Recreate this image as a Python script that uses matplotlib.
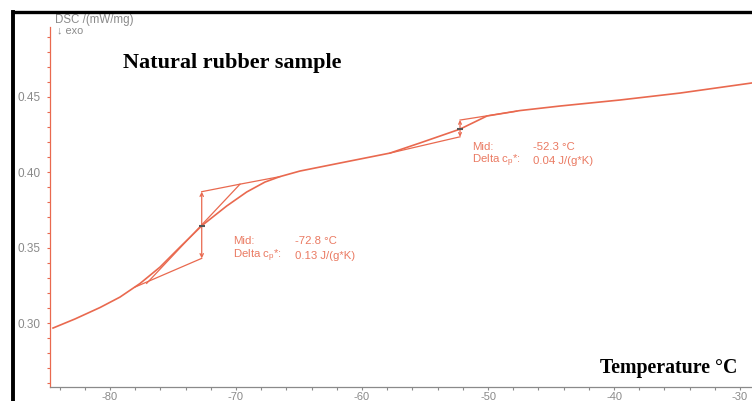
import matplotlib
matplotlib.use("Agg")
import matplotlib.pyplot as plt
import matplotlib.ticker as mtick
from matplotlib.lines import Line2D

plt.rcParams["axes.unicode_minus"] = False

temp = [-84.52, -82.78, -80.79, -79.21, -77.62, -76.03, -74.44, -72.72, -70.74,
        -69.15, -67.70, -66.51, -64.92, -61.75, -57.78, -55.40, -52.22, -50.08,
        -47.46, -44.29, -39.52, -34.76, -29.05]
dsc = [0.2967, 0.3027, 0.3103, 0.3172, 0.3262, 0.3371, 0.3504, 0.3645, 0.3776,
       0.3869, 0.3935, 0.3971, 0.4008, 0.4061, 0.4127, 0.4194, 0.4286, 0.4373,
       0.4409, 0.4439, 0.4479, 0.4525, 0.4592]

# glass transition 1 construction
g1_low_x, g1_low_y = [-78.0, -72.72], [0.3239, 0.3429]
g1_up_x, g1_up_y = [-72.72, -69.68, -66.51], [0.3871, 0.3921, 0.3971]
g1_tan_x, g1_tan_y = [-77.09, -69.68], [0.3263, 0.3921]
g1_mid = (-72.72, 0.3645)

# glass transition 2 construction
g2_low_x, g2_low_y = [-57.78, -52.22], [0.4127, 0.4235]
g2_up_x, g2_up_y = [-52.22, -47.72], [0.4346, 0.4405]
g2_mid = (-52.22, 0.4286)

mid_labels = ["-72.8 °C", "-52.3 °C"]
dcp_labels = ["0.13 J/(g*K)", "0.04 J/(g*K)"]

RED = "#E9694F"
TXT = "#EA7A62"
GRAY = "#8A8A8A"

fig = plt.figure(figsize=(7.52, 4.01), dpi=100)
ax = fig.add_axes([50 / 752, 1 - 386.7 / 401, 1 - 50 / 752, (386.7 - 27) / 401])
ax.set_xlim(-84.76, -29.05)
ax.set_ylim(0.2578, 0.4963)

ax.plot(temp, dsc, color=RED, lw=1.2, zorder=3)
for xs, ys in [(g1_low_x, g1_low_y), (g1_up_x, g1_up_y), (g1_tan_x, g1_tan_y),
               (g2_low_x, g2_low_y), (g2_up_x, g2_up_y)]:
    ax.plot(xs, ys, color=RED, lw=0.9, zorder=2)

# step arrows
ax.annotate("", xy=(g1_up_x[0], g1_up_y[0]), xytext=(g1_low_x[1], g1_low_y[1]),
            arrowprops=dict(arrowstyle="<->", color=RED, lw=0.9, mutation_scale=6,
                            shrinkA=0, shrinkB=0))
ax.annotate("", xy=(g2_up_x[0], g2_up_y[0]), xytext=(g2_low_x[1], g2_low_y[1]),
            arrowprops=dict(arrowstyle="<->", color=RED, lw=0.9, mutation_scale=5,
                            shrinkA=0, shrinkB=0))
ax.plot([g1_mid[0], g2_mid[0]], [g1_mid[1], g2_mid[1]], ls="none", marker="_",
        ms=5, mew=1.5, color="#555555", zorder=4)

# annotation text
sans = ["Liberation Sans", "DejaVu Sans"]
fs = 8.2
for (tx, ty_mid, ty_dcp, vx), m, d in zip(
        [(-70.24, 0.3546, 0.3446, -65.32), (-51.29, 0.4169, 0.4076, -46.43)],
        mid_labels, dcp_labels):
    ax.text(tx, ty_mid, "Mid:", color=TXT, fontsize=fs, family=sans, va="center")
    ax.text(vx, ty_mid, m, color=TXT, fontsize=fs, family=sans, va="center")
    ax.text(tx, ty_dcp, r"Delta c$_\mathregular{p}$*:", color=TXT, fontsize=fs,
            family=sans, va="center")
    ax.text(vx, ty_dcp, d, color=TXT, fontsize=fs, family=sans, va="center")

# axes styling
for s in ["top", "right"]:
    ax.spines[s].set_visible(False)
ax.spines["left"].set_color(RED)
ax.spines["bottom"].set_color(GRAY)
ax.spines["left"].set_linewidth(0.9)
ax.spines["bottom"].set_linewidth(0.9)
ax.xaxis.set_major_locator(mtick.MultipleLocator(10))
ax.xaxis.set_minor_locator(mtick.MultipleLocator(2))
ax.yaxis.set_major_locator(mtick.MultipleLocator(0.05))
ax.yaxis.set_minor_locator(mtick.MultipleLocator(0.01))
ax.yaxis.set_major_formatter(mtick.FormatStrFormatter("%.2f"))
ax.tick_params(axis="y", which="both", colors=RED, length=2.5, width=0.8,
               labelcolor=GRAY, labelsize=8.5, pad=4)
ax.tick_params(axis="x", which="both", colors=GRAY, length=2.5, width=0.8,
               labelcolor=GRAY, labelsize=8, pad=1.5)
for lab in ax.get_xticklabels() + ax.get_yticklabels():
    lab.set_family(sans)

fig.text(55 / 752, 1 - 19.5 / 401, "DSC /(mW/mg)", color=GRAY, fontsize=8.3,
         family=sans, va="center")
fig.text(57 / 752, 1 - 30 / 401, "↓ exo", color=GRAY, fontsize=7.8,
         family=sans, va="center")
fig.text(123 / 752, 1 - 63 / 401, "Natural rubber sample", fontsize=16,
         family="Liberation Serif", fontweight="bold", va="center")
fig.text(600 / 752, 1 - 368 / 401, "Temperature °C", fontsize=14.3,
         family="Liberation Serif", fontweight="bold", va="center")

# black frame on left and top
fig.add_artist(Line2D([13 / 752, 13 / 752], [0, 1 - 11.5 / 401], color="black",
                      lw=2.8, zorder=10, solid_capstyle="projecting"))
fig.add_artist(Line2D([13 / 752, 1], [1 - 11.5 / 401, 1 - 11.5 / 401], color="black",
                      lw=2.4, zorder=10, solid_capstyle="projecting"))

fig.savefig("out.png", dpi=100)
